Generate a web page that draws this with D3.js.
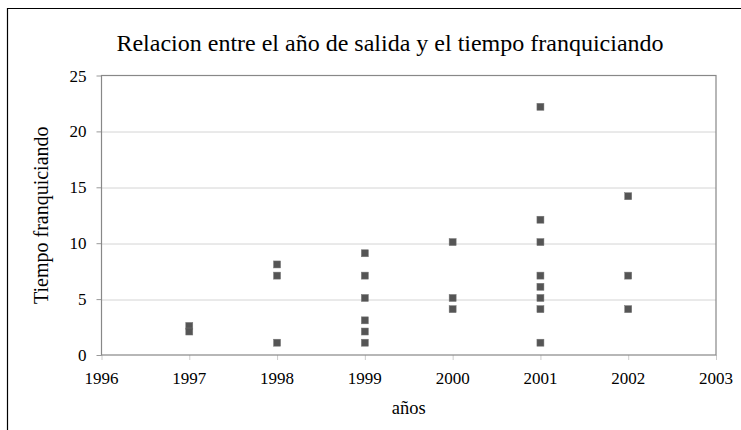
<!DOCTYPE html>
<html>
<head>
<meta charset="utf-8">
<script src="https://cdn.jsdelivr.net/npm/d3@7"></script>
<style>
  body { margin: 0; background: #fff; }
  text { font-family: "Liberation Serif", "Times New Roman", serif; fill: #000; }
</style>
</head>
<body>
<div id="chart"></div>
<script>
// años de salida y tiempo franquiciando
var years = [1997, 1997,
             1998, 1998, 1998,
             1999, 1999, 1999, 1999, 1999, 1999,
             2000, 2000, 2000,
             2001, 2001, 2001, 2001, 2001, 2001, 2001, 2001,
             2002, 2002, 2002]
var tiempo = [2.6, 2.1,
              8.1, 7.1, 1.1,
              9.1, 7.1, 5.1, 3.1, 2.1, 1.1,
              10.1, 5.1, 4.1,
              22.2, 12.1, 10.1, 7.1, 6.1, 5.1, 4.1, 1.1,
              14.2, 7.1, 4.1]
var xTicks = [1996, 1997, 1998, 1999, 2000, 2001, 2002, 2003]
var yTicks = [0, 5, 10, 15, 20, 25]

var title = "Relacion entre el año de salida y el tiempo franquiciando"
var xTitle = "años"
var yTitle = "Tiempo franquiciando"

var W = 741, H = 430
var margin = {top: 75.5, right: 25, bottom: 75, left: 101.5}
var width = 716 - margin.left,
    height = 355 - margin.top

var svg = d3.select("#chart").append("svg")
    .attr("width", W)
    .attr("height", H)

// marco exterior
svg.append("path")
    .attr("d", "M7.5," + H + "V8.5H" + W)
    .attr("fill", "none")
    .attr("stroke", "#000")
    .attr("stroke-width", 1.2)

svg.append("text")
    .attr("x", 390)
    .attr("y", 51)
    .attr("text-anchor", "middle")
    .style("font-size", "24px")
    .text(title)

var g = svg.append("g")
    .attr("transform", "translate(" + margin.left + "," + margin.top + ")")

var x = d3.scaleLinear().domain([1996, 2003]).range([0, width])
var y = d3.scaleLinear().domain([0, 25]).range([height, 0])

// lineas de division
g.append("g")
    .selectAll("line")
    .data(yTicks.slice(1, -1))
    .enter()
    .append("line")
    .attr("x1", 0)
    .attr("x2", width)
    .attr("y1", function(d) { return Math.round(y(d)) + 0.5 })
    .attr("y2", function(d) { return Math.round(y(d)) + 0.5 })
    .attr("stroke", "#d4d4d4")

// ejes: solo las marcas, las etiquetas van aparte
var xAxis = g.append("g")
    .attr("transform", "translate(0," + height + ")")
    .call(d3.axisBottom(x).tickValues(xTicks).tickFormat("").tickSize(5))
xAxis.select(".domain").remove()
xAxis.selectAll(".tick line").attr("stroke", "#ccc")

var yAxis = g.append("g")
    .call(d3.axisLeft(y).tickValues(yTicks).tickFormat("").tickSize(5))
yAxis.select(".domain").remove()
yAxis.selectAll(".tick line").attr("stroke", "#999")

g.append("g")
    .selectAll("text")
    .data(xTicks)
    .enter()
    .append("text")
    .attr("x", function(d) { return x(d) })
    .attr("y", height + 29)
    .attr("text-anchor", "middle")
    .style("font-size", "17px")
    .text(function(d) { return d })

g.append("g")
    .selectAll("text")
    .data(yTicks)
    .enter()
    .append("text")
    .attr("x", -15)
    .attr("y", function(d) { return y(d) + 6 })
    .attr("text-anchor", "end")
    .style("font-size", "17px")
    .text(function(d) { return d })

// borde del area de trazado
g.append("rect")
    .attr("x", 0)
    .attr("y", 0)
    .attr("width", width)
    .attr("height", height)
    .attr("fill", "none")
    .attr("stroke", "#888")
    .attr("stroke-width", 1.2)

var pts = years.map(function(d, i) { return {year: d, t: tiempo[i]} })

g.append("g")
    .selectAll("rect")
    .data(pts)
    .enter()
    .append("rect")
    .attr("x", function(d) { return x(d.year) - 3.5 })
    .attr("y", function(d) { return y(d.t) - 3.5 })
    .attr("width", 7)
    .attr("height", 7)
    .attr("fill", "#555")
    .attr("stroke", "#777")
    .attr("stroke-width", 0.5)

svg.append("text")
    .attr("x", margin.left + width / 2)
    .attr("y", 414)
    .attr("text-anchor", "middle")
    .style("font-size", "18.5px")
    .text(xTitle)

svg.append("text")
    .attr("transform", "translate(48," + (margin.top + height / 2) + ") rotate(-90)")
    .attr("text-anchor", "middle")
    .style("font-size", "20px")
    .text(yTitle)
</script>
</body>
</html>
